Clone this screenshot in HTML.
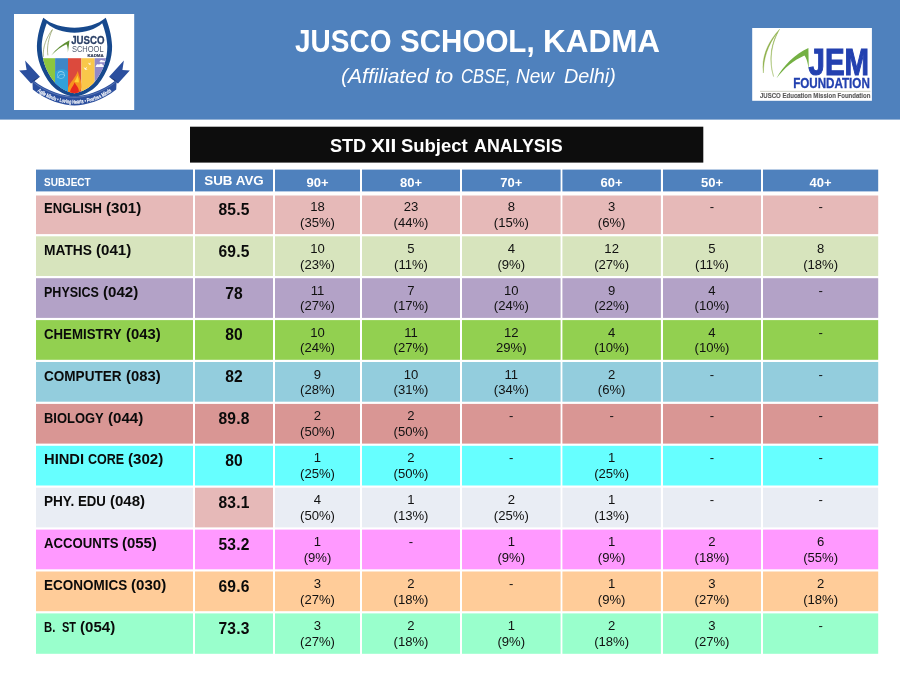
<!DOCTYPE html>
<html lang="en"><head><meta charset="utf-8"><title>JUSCO SCHOOL, KADMA - STD XII Subject ANALYSIS</title>
<style>
html,body{margin:0;padding:0}
body{width:900px;height:675px;position:relative;overflow:hidden;background:#fff;will-change:transform;font-family:"Liberation Sans",sans-serif;color:#000}
.abs{position:absolute}
.t{position:absolute;white-space:nowrap;transform-origin:0 0;line-height:1}
.b{font-weight:bold}
.i{font-style:italic}
.w{color:#fff}
.s{color:#0a0a0a}
.avg{position:absolute;text-align:center;font-weight:bold;font-size:15.6px;line-height:1;left:195px;width:78px;letter-spacing:.2px;color:#0a0a0a}
.d{position:absolute;text-align:center;font-size:13.1px;line-height:15.7px;color:#111}
.h{position:absolute;text-align:center;font-weight:bold;font-size:13.0px;line-height:1;color:#fff}
.k3{left:275px;width:85px}.k4{left:362px;width:98px}.k5{left:462px;width:98.6px}.k6{left:562.4px;width:98.5px}.k7{left:663px;width:98px}.k8{left:763px;width:115.2px}
</style></head><body>
<div class="abs" id="topbar" style="left:0;top:0;width:900px;height:119px;background:#4f81bd"></div><div class="abs" style="left:0;top:119px;width:900px;height:1px;background:#95b3d7"></div>
<svg class="abs" id="logo-left" style="left:14px;top:14px" width="121" height="96" viewBox="14 14 121 96" font-family="'Liberation Sans',sans-serif">
<rect x="14" y="14" width="120.2" height="96" fill="#fff"/>
<path d="M 25.1 60.4 L 39.9 76.8 L 31.0 83.4 L 19.2 70.4 L 26.6 70.0 Z" fill="#2b4f9e"/><path d="M 123.9 60.4 L 109.1 76.8 L 118.0 83.4 L 129.8 70.4 L 122.4 70.0 Z" fill="#2b4f9e"/>
<path d="M 31 83.4 L 39.9 76.8 L 33 80.5 Z" fill="#1b336b"/><path d="M 118.0 83.4 L 109.1 76.8 L 116.0 80.5 Z" fill="#1b336b"/>
<path d="M 74.50 27.80 C 63.00 27.60 51.00 24.60 43.30 17.80 C 40.40 25.00 37.30 35.00 36.90 46.00 C 36.70 58.00 41.00 72.00 51.30 84.70 C 57.00 91.20 66.00 95.60 74.50 96.80 C 83.00 95.60 92.00 91.20 97.70 84.70 C 108.00 72.00 112.30 58.00 112.10 46.00 C 111.70 35.00 108.60 25.00 105.70 17.80 C 98.00 24.60 86.00 27.60 74.50 27.80 Z" fill="#17498d"/>
<path id="shieldin" d="M 74.50 32.70 C 64.00 32.50 53.50 29.60 46.80 23.30 C 44.20 30.00 41.80 38.50 41.70 46.50 C 41.70 58.00 45.00 70.00 54.00 81.50 C 59.00 87.80 67.00 92.20 74.50 93.20 C 82.00 92.20 90.00 87.80 95.00 81.50 C 104.00 70.00 107.30 58.00 107.30 46.50 C 107.20 38.50 104.80 30.00 102.20 23.30 C 95.50 29.60 85.00 32.50 74.50 32.70 Z" fill="#fff"/>
<clipPath id="shclip"><path d="M 74.50 32.70 C 64.00 32.50 53.50 29.60 46.80 23.30 C 44.20 30.00 41.80 38.50 41.70 46.50 C 41.70 58.00 45.00 70.00 54.00 81.50 C 59.00 87.80 67.00 92.20 74.50 93.20 C 82.00 92.20 90.00 87.80 95.00 81.50 C 104.00 70.00 107.30 58.00 107.30 46.50 C 107.20 38.50 104.80 30.00 102.20 23.30 C 95.50 29.60 85.00 32.50 74.50 32.70 Z"/></clipPath>
<g clip-path="url(#shclip)">
<rect x="40" y="58.2" width="15.1" height="40" fill="#8cc63f"/>
<rect x="55.1" y="58.2" width="12.9" height="40" fill="#3f86c6"/>
<rect x="68" y="58.2" width="13.4" height="40" fill="#dc4a3d"/>
<rect x="81.4" y="58.2" width="13.3" height="40" fill="#f9c74a"/>
<rect x="94.7" y="58.2" width="14" height="40" fill="#9189c9"/>
<path d="M 55.1 72 C 60 68, 66 69, 68 72 L 68 95 L 55.1 95 Z" fill="#2fa9e0" opacity=".75"/>
<circle cx="61" cy="75" r="3.6" fill="none" stroke="#9fd8f2" stroke-width=".7" opacity=".8"/>
<path d="M 57.5 78 C 59 74, 63 73, 65 76 M 58 72.5 C 60 71, 62.5 71.5, 64 73" fill="none" stroke="#bfe6f7" stroke-width=".6" opacity=".8"/>
<path d="M 68 88 C 70 82, 75.5 78, 77.8 71 C 79 77, 82 81, 81.4 88 C 80 93, 72 95, 68 94 Z" fill="#f7931e"/>
<path d="M 70 93 C 70 88.5, 73.5 86, 74.6 82.4 C 76.5 86, 79.5 88, 78.8 92 C 77 95.5, 71 96, 70 93 Z" fill="#e8281d"/>
<path d="M 74.4 82 C 75.4 79.6, 76.8 78, 77.4 75.4 C 78.2 78, 79.2 80, 78.8 82.6 Z" fill="#fdd835" opacity=".9"/>
<path d="M 83.5 67 l 1.8 1.2 l 2 -1.6 l -1.2 2.2 l 1.6 .6 l -2.6 .4 z M 88 62.5 l 1.4 .9 l 1.6 -1.2 l -.9 1.7 l 1.2 .5 l -2.1 .3 z" fill="#fff" opacity=".95"/>
<path d="M 96 66 c .2 -1.6, 2 -2.2, 3 -1.2 c .8 -1.6, 3.4 -1.4, 3.8 .4 c 1.2 0, 1.8 1, 1.4 1.8 l -8 0 c -.8 -.2, -.8 -.9, -.2 -1 z M 100 61 c .4 -1.2, 2.2 -1.4, 2.8 -.4 c 1.4 -.6, 2.6 .6, 2.2 1.6 l -5 0 c -.6 -.3, -.5 -1, 0 -1.2 z" fill="#fff" opacity=".95"/>
</g>
<path d="M 43.3 56.8 C 42.6 47, 46.6 37, 52.4 29.6 C 48.6 38, 46.6 47, 47.9 55.4" fill="none" stroke="#8a9a5b" stroke-width=".7" stroke-linejoin="round"/>
<path d="M 51.2 55.4 C 56 49, 62.5 43.6, 69.5 40.2 L 67.9 52.6 C 67.9 48.6, 67.4 45.6, 66.4 44.2 C 61.5 46.4, 56 50.6, 51.2 55.4 Z" fill="#5f8f33"/>
<text x="71.25" y="43.9" font-size="10.7" font-weight="bold" fill="#2a3f66" stroke="#2a3f66" stroke-width=".3" textLength="33.3" lengthAdjust="spacingAndGlyphs">JUSCO</text>
<text x="71.9" y="52" font-size="9" fill="#4d586e" textLength="31.7" lengthAdjust="spacingAndGlyphs">SCHOOL</text>
<text x="87.5" y="56.8" font-size="3.7" font-weight="bold" fill="#3a4560" stroke="#3a4560" stroke-width=".2" textLength="16.1" lengthAdjust="spacingAndGlyphs">KADMA</text>
<path d="M 74.50 96.20 C 64.00 96.00 48.00 92.50 32.30 79.60 L 32.80 89.60 C 47.00 101.00 63.00 105.40 74.50 105.60 C 86.00 105.40 102.00 101.00 116.20 89.60 L 116.70 79.60 C 101.00 92.50 85.00 96.00 74.50 96.20 Z" fill="#2b4f9e"/>
<path d="M 33.4 82.2 C 48 93.6, 64 97.2, 74.5 97.4 C 85 97.2, 101 93.6, 115.6 82.2" fill="none" stroke="#fff" stroke-width=".4" opacity=".55"/>
<path id="ribpath" d="M 35.4 89.9 C 47.4 99.8, 62 103.5, 74.5 103.7 C 87 103.5, 101.6 99.8, 113.6 89.9" fill="none"/>
<text font-size="5.6" font-weight="bold" fill="#fff" stroke="#fff" stroke-width=".12"><textPath href="#ribpath" startOffset="50%" text-anchor="middle" textLength="80" lengthAdjust="spacingAndGlyphs">Agile Minds &#8226; Loving Hearts &#8226; Fearless Minds</textPath></text>
</svg>
<svg class="abs" id="logo-right" style="left:752px;top:28px" width="121" height="74" viewBox="752 28 121 74" font-family="'Liberation Sans',sans-serif">
<rect x="752.2" y="27.9" width="119.7" height="72.9" fill="#fff"/>
<path d="M 763.4 73 C 761 58, 767.6 42, 779.6 29.2 C 771.6 43, 768.6 60, 773.6 76.6 C 768.8 62, 770.4 45, 777.6 32.4 C 767.6 45, 763.4 59, 763.4 73 Z" fill="#8fb04a" stroke="#8fb04a" stroke-width=".35" stroke-linejoin="round"/>
<path d="M 776.4 78.4 C 783 66, 795 54, 808.4 48 L 808.8 70.4 C 808 63, 806.4 57.4, 804.4 55.4 C 794 60, 784 68, 776.4 78.4 Z" fill="#74b043"/>
<text x="808.6" y="74.5" font-size="36" font-weight="bold" fill="#2341b0" stroke="#2341b0" stroke-width="1.1" textLength="60.5" lengthAdjust="spacingAndGlyphs">JEM</text>
<text x="793.2" y="87.8" font-size="15.5" font-weight="bold" fill="#2341b0" stroke="#2341b0" stroke-width=".35" textLength="76.6" lengthAdjust="spacingAndGlyphs">FOUNDATION</text>
<rect x="760" y="90.9" width="110.4" height=".6" fill="#a9ad9c"/>
<text x="760" y="98.4" font-size="7.7" font-weight="bold" fill="#5a5a5a" stroke="#5a5a5a" stroke-width=".15" textLength="110.4" lengthAdjust="spacingAndGlyphs">JUSCO Education Mission Foundation</text>
</svg>
<h1 id="title" style="margin:0;font-size:inherit;font-weight:normal"><span class="t b w" style="left:295.18px;top:26.00px;font-size:30.6px;transform:scaleX(0.915)">JUSCO</span><span class="t b w" style="left:400.26px;top:26.00px;font-size:30.6px;transform:scaleX(0.966)">SCHOOL,</span><span class="t b w" style="left:542.56px;top:26.00px;font-size:30.6px;transform:scaleX(1.028)">KADMA</span></h1>
<div id="subtitle"><span class="t i w" style="left:340.85px;top:65.61px;font-size:20.9px;transform:scaleX(1.008)">(Affiliated</span><span class="t i w" style="left:434.61px;top:65.61px;font-size:20.9px;transform:scaleX(1.048)">to</span><span class="t i w" style="left:461.29px;top:65.61px;font-size:20.9px;transform:scaleX(0.789)">CBSE,</span><span class="t i w" style="left:516.43px;top:65.61px;font-size:20.9px;transform:scaleX(0.911)">New</span><span class="t i w" style="left:563.81px;top:65.61px;font-size:20.9px;transform:scaleX(0.948)">Delhi)</span></div>
<svg class="abs" id="grid" style="left:0;top:120px" width="900" height="555" viewBox="0 120 900 555">
<rect x="190" y="126.7" width="513.3" height="35.9" fill="#0d0d0d"/>
<g fill="#4f81bd">
<rect x="36" y="169.6" width="157.0" height="21.8"/>
<rect x="195" y="169.6" width="78.0" height="21.8"/>
<rect x="275" y="169.6" width="85.0" height="21.8"/>
<rect x="362" y="169.6" width="98.0" height="21.8"/>
<rect x="462" y="169.6" width="98.6" height="21.8"/>
<rect x="562.4" y="169.6" width="98.5" height="21.8"/>
<rect x="663" y="169.6" width="98.0" height="21.8"/>
<rect x="763" y="169.6" width="115.2" height="21.8"/>
</g>
<g fill="#e6b9b8">
<rect x="36" y="195.5" width="157.0" height="38.6"/>
<rect x="195" y="195.5" width="78.0" height="38.6"/>
<rect x="275" y="195.5" width="85.0" height="38.6"/>
<rect x="362" y="195.5" width="98.0" height="38.6"/>
<rect x="462" y="195.5" width="98.6" height="38.6"/>
<rect x="562.4" y="195.5" width="98.5" height="38.6"/>
<rect x="663" y="195.5" width="98.0" height="38.6"/>
<rect x="763" y="195.5" width="115.2" height="38.6"/>
</g>
<g fill="#d7e4bd">
<rect x="36" y="236.3" width="157.0" height="39.7"/>
<rect x="195" y="236.3" width="78.0" height="39.7"/>
<rect x="275" y="236.3" width="85.0" height="39.7"/>
<rect x="362" y="236.3" width="98.0" height="39.7"/>
<rect x="462" y="236.3" width="98.6" height="39.7"/>
<rect x="562.4" y="236.3" width="98.5" height="39.7"/>
<rect x="663" y="236.3" width="98.0" height="39.7"/>
<rect x="763" y="236.3" width="115.2" height="39.7"/>
</g>
<g fill="#b3a2c7">
<rect x="36" y="278.2" width="157.0" height="39.7"/>
<rect x="195" y="278.2" width="78.0" height="39.7"/>
<rect x="275" y="278.2" width="85.0" height="39.7"/>
<rect x="362" y="278.2" width="98.0" height="39.7"/>
<rect x="462" y="278.2" width="98.6" height="39.7"/>
<rect x="562.4" y="278.2" width="98.5" height="39.7"/>
<rect x="663" y="278.2" width="98.0" height="39.7"/>
<rect x="763" y="278.2" width="115.2" height="39.7"/>
</g>
<g fill="#92d050">
<rect x="36" y="320.1" width="157.0" height="39.7"/>
<rect x="195" y="320.1" width="78.0" height="39.7"/>
<rect x="275" y="320.1" width="85.0" height="39.7"/>
<rect x="362" y="320.1" width="98.0" height="39.7"/>
<rect x="462" y="320.1" width="98.6" height="39.7"/>
<rect x="562.4" y="320.1" width="98.5" height="39.7"/>
<rect x="663" y="320.1" width="98.0" height="39.7"/>
<rect x="763" y="320.1" width="115.2" height="39.7"/>
</g>
<g fill="#93cddd">
<rect x="36" y="362.0" width="157.0" height="39.7"/>
<rect x="195" y="362.0" width="78.0" height="39.7"/>
<rect x="275" y="362.0" width="85.0" height="39.7"/>
<rect x="362" y="362.0" width="98.0" height="39.7"/>
<rect x="462" y="362.0" width="98.6" height="39.7"/>
<rect x="562.4" y="362.0" width="98.5" height="39.7"/>
<rect x="663" y="362.0" width="98.0" height="39.7"/>
<rect x="763" y="362.0" width="115.2" height="39.7"/>
</g>
<g fill="#d99694">
<rect x="36" y="403.9" width="157.0" height="39.7"/>
<rect x="195" y="403.9" width="78.0" height="39.7"/>
<rect x="275" y="403.9" width="85.0" height="39.7"/>
<rect x="362" y="403.9" width="98.0" height="39.7"/>
<rect x="462" y="403.9" width="98.6" height="39.7"/>
<rect x="562.4" y="403.9" width="98.5" height="39.7"/>
<rect x="663" y="403.9" width="98.0" height="39.7"/>
<rect x="763" y="403.9" width="115.2" height="39.7"/>
</g>
<g fill="#66ffff">
<rect x="36" y="445.8" width="157.0" height="39.7"/>
<rect x="195" y="445.8" width="78.0" height="39.7"/>
<rect x="275" y="445.8" width="85.0" height="39.7"/>
<rect x="362" y="445.8" width="98.0" height="39.7"/>
<rect x="462" y="445.8" width="98.6" height="39.7"/>
<rect x="562.4" y="445.8" width="98.5" height="39.7"/>
<rect x="663" y="445.8" width="98.0" height="39.7"/>
<rect x="763" y="445.8" width="115.2" height="39.7"/>
</g>
<g fill="#e9edf4">
<rect x="36" y="487.7" width="157.0" height="39.7"/>
<rect x="195" y="487.7" width="78.0" height="39.7" fill="#e6b9b8"/>
<rect x="275" y="487.7" width="85.0" height="39.7"/>
<rect x="362" y="487.7" width="98.0" height="39.7"/>
<rect x="462" y="487.7" width="98.6" height="39.7"/>
<rect x="562.4" y="487.7" width="98.5" height="39.7"/>
<rect x="663" y="487.7" width="98.0" height="39.7"/>
<rect x="763" y="487.7" width="115.2" height="39.7"/>
</g>
<g fill="#ff99ff">
<rect x="36" y="529.6" width="157.0" height="39.7"/>
<rect x="195" y="529.6" width="78.0" height="39.7"/>
<rect x="275" y="529.6" width="85.0" height="39.7"/>
<rect x="362" y="529.6" width="98.0" height="39.7"/>
<rect x="462" y="529.6" width="98.6" height="39.7"/>
<rect x="562.4" y="529.6" width="98.5" height="39.7"/>
<rect x="663" y="529.6" width="98.0" height="39.7"/>
<rect x="763" y="529.6" width="115.2" height="39.7"/>
</g>
<g fill="#ffcc99">
<rect x="36" y="571.5" width="157.0" height="39.7"/>
<rect x="195" y="571.5" width="78.0" height="39.7"/>
<rect x="275" y="571.5" width="85.0" height="39.7"/>
<rect x="362" y="571.5" width="98.0" height="39.7"/>
<rect x="462" y="571.5" width="98.6" height="39.7"/>
<rect x="562.4" y="571.5" width="98.5" height="39.7"/>
<rect x="663" y="571.5" width="98.0" height="39.7"/>
<rect x="763" y="571.5" width="115.2" height="39.7"/>
</g>
<g fill="#99ffcc">
<rect x="36" y="613.4" width="157.0" height="40.4"/>
<rect x="195" y="613.4" width="78.0" height="40.4"/>
<rect x="275" y="613.4" width="85.0" height="40.4"/>
<rect x="362" y="613.4" width="98.0" height="40.4"/>
<rect x="462" y="613.4" width="98.6" height="40.4"/>
<rect x="562.4" y="613.4" width="98.5" height="40.4"/>
<rect x="663" y="613.4" width="98.0" height="40.4"/>
<rect x="763" y="613.4" width="115.2" height="40.4"/>
</g>
</svg>
<div id="bartxt"><span class="t b w" style="left:329.95px;top:135.55px;font-size:19.2px;transform:scaleX(0.943)">STD</span><span class="t b w" style="left:371.40px;top:135.55px;font-size:19.2px;transform:scaleX(1.082)">XII</span><span class="t b w" style="left:401.04px;top:135.55px;font-size:19.2px;transform:scaleX(0.961)">Subject</span><span class="t b w" style="left:474.04px;top:135.55px;font-size:19.2px;transform:scaleX(0.930)">ANALYSIS</span></div>
<!-- table header -->
<div id="hsubject"><span class="t b w" style="left:44.05px;top:175.78px;font-size:11.6px;transform:scaleX(0.863)">SUBJECT</span></div>
<div class="h" id="hsubavg" style="left:195px;width:78px;top:174.46px;font-size:13.4px">SUB AVG</div>
<div class="h k3" style="top:175.80px">90+</div>
<div class="h k4" style="top:175.80px">80+</div>
<div class="h k5" style="top:175.80px">70+</div>
<div class="h k6" style="top:175.80px">60+</div>
<div class="h k7" style="top:175.80px">50+</div>
<div class="h k8" style="top:175.80px">40+</div>
<!-- row 1 -->
<div><span class="t b s" style="left:44.05px;top:200.02px;font-size:15.1px;transform:scaleX(0.865)">ENGLISH</span><span class="t b s" style="left:105.92px;top:200.02px;font-size:15.1px;transform:scaleX(0.999)">(301)</span></div>
<div class="avg" style="top:201.79px">85.5</div>
<div class="d k3" style="top:198.91px">18<br>(35%)</div>
<div class="d k4" style="top:198.91px">23<br>(44%)</div>
<div class="d k5" style="top:198.91px">8<br>(15%)</div>
<div class="d k6" style="top:198.91px">3<br>(6%)</div>
<div class="d k7" style="top:198.91px">-</div>
<div class="d k8" style="top:198.91px">-</div>
<!-- row 2 -->
<div><span class="t b s" style="left:44.00px;top:241.92px;font-size:15.1px;transform:scaleX(0.913)">MATHS</span><span class="t b s" style="left:96.32px;top:241.92px;font-size:15.1px;transform:scaleX(0.999)">(041)</span></div>
<div class="avg" style="top:243.69px">69.5</div>
<div class="d k3" style="top:240.81px">10<br>(23%)</div>
<div class="d k4" style="top:240.81px">5<br>(11%)</div>
<div class="d k5" style="top:240.81px">4<br>(9%)</div>
<div class="d k6" style="top:240.81px">12<br>(27%)</div>
<div class="d k7" style="top:240.81px">5<br>(11%)</div>
<div class="d k8" style="top:240.81px">8<br>(18%)</div>
<!-- row 3 -->
<div><span class="t b s" style="left:44.09px;top:283.82px;font-size:15.1px;transform:scaleX(0.829)">PHYSICS</span><span class="t b s" style="left:103.22px;top:283.82px;font-size:15.1px;transform:scaleX(0.999)">(042)</span></div>
<div class="avg" style="top:285.59px">78</div>
<div class="d k3" style="top:282.71px">11<br>(27%)</div>
<div class="d k4" style="top:282.71px">7<br>(17%)</div>
<div class="d k5" style="top:282.71px">10<br>(24%)</div>
<div class="d k6" style="top:282.71px">9<br>(22%)</div>
<div class="d k7" style="top:282.71px">4<br>(10%)</div>
<div class="d k8" style="top:282.71px">-</div>
<!-- row 4 -->
<div><span class="t b s" style="left:43.97px;top:325.72px;font-size:15.1px;transform:scaleX(0.877)">CHEMISTRY</span><span class="t b s" style="left:126.03px;top:325.72px;font-size:15.1px;transform:scaleX(0.981)">(043)</span></div>
<div class="avg" style="top:327.49px">80</div>
<div class="d k3" style="top:324.61px">10<br>(24%)</div>
<div class="d k4" style="top:324.61px">11<br>(27%)</div>
<div class="d k5" style="top:324.61px">12<br>29%)</div>
<div class="d k6" style="top:324.61px">4<br>(10%)</div>
<div class="d k7" style="top:324.61px">4<br>(10%)</div>
<div class="d k8" style="top:324.61px">-</div>
<!-- row 5 -->
<div><span class="t b s" style="left:43.96px;top:367.62px;font-size:15.1px;transform:scaleX(0.898)">COMPUTER</span><span class="t b s" style="left:126.03px;top:367.62px;font-size:15.1px;transform:scaleX(0.981)">(083)</span></div>
<div class="avg" style="top:369.39px">82</div>
<div class="d k3" style="top:366.51px">9<br>(28%)</div>
<div class="d k4" style="top:366.51px">10<br>(31%)</div>
<div class="d k5" style="top:366.51px">11<br>(34%)</div>
<div class="d k6" style="top:366.51px">2<br>(6%)</div>
<div class="d k7" style="top:366.51px">-</div>
<div class="d k8" style="top:366.51px">-</div>
<!-- row 6 -->
<div><span class="t b s" style="left:44.06px;top:409.52px;font-size:15.1px;transform:scaleX(0.857)">BIOLOGY</span><span class="t b s" style="left:108.22px;top:409.52px;font-size:15.1px;transform:scaleX(0.999)">(044)</span></div>
<div class="avg" style="top:411.29px">89.8</div>
<div class="d k3" style="top:408.41px">2<br>(50%)</div>
<div class="d k4" style="top:408.41px">2<br>(50%)</div>
<div class="d k5" style="top:408.41px">-</div>
<div class="d k6" style="top:408.41px">-</div>
<div class="d k7" style="top:408.41px">-</div>
<div class="d k8" style="top:408.41px">-</div>
<!-- row 7 -->
<div><span class="t b s" style="left:43.94px;top:451.42px;font-size:15.1px;transform:scaleX(0.975)">HINDI</span><span class="t b s" style="left:87.90px;top:451.42px;font-size:15.1px;transform:scaleX(0.829)">CORE</span><span class="t b s" style="left:128.32px;top:451.42px;font-size:15.1px;transform:scaleX(0.999)">(302)</span></div>
<div class="avg" style="top:453.19px">80</div>
<div class="d k3" style="top:450.31px">1<br>(25%)</div>
<div class="d k4" style="top:450.31px">2<br>(50%)</div>
<div class="d k5" style="top:450.31px">-</div>
<div class="d k6" style="top:450.31px">1<br>(25%)</div>
<div class="d k7" style="top:450.31px">-</div>
<div class="d k8" style="top:450.31px">-</div>
<!-- row 8 -->
<div><span class="t b s" style="left:44.02px;top:493.32px;font-size:15.1px;transform:scaleX(0.900)">PHY.</span><span class="t b s" style="left:77.84px;top:493.32px;font-size:15.1px;transform:scaleX(0.876)">EDU</span><span class="t b s" style="left:110.02px;top:493.32px;font-size:15.1px;transform:scaleX(0.996)">(048)</span></div>
<div class="avg" style="top:495.09px">83.1</div>
<div class="d k3" style="top:492.21px">4<br>(50%)</div>
<div class="d k4" style="top:492.21px">1<br>(13%)</div>
<div class="d k5" style="top:492.21px">2<br>(25%)</div>
<div class="d k6" style="top:492.21px">1<br>(13%)</div>
<div class="d k7" style="top:492.21px">-</div>
<div class="d k8" style="top:492.21px">-</div>
<!-- row 9 -->
<div><span class="t b s" style="left:44.24px;top:535.22px;font-size:15.1px;transform:scaleX(0.871)">ACCOUNTS</span><span class="t b s" style="left:122.43px;top:535.22px;font-size:15.1px;transform:scaleX(0.987)">(055)</span></div>
<div class="avg" style="top:536.99px">53.2</div>
<div class="d k3" style="top:534.11px">1<br>(9%)</div>
<div class="d k4" style="top:534.11px">-</div>
<div class="d k5" style="top:534.11px">1<br>(9%)</div>
<div class="d k6" style="top:534.11px">1<br>(9%)</div>
<div class="d k7" style="top:534.11px">2<br>(18%)</div>
<div class="d k8" style="top:534.11px">6<br>(55%)</div>
<!-- row 10 -->
<div><span class="t b s" style="left:44.02px;top:577.12px;font-size:15.1px;transform:scaleX(0.893)">ECONOMICS</span><span class="t b s" style="left:131.32px;top:577.12px;font-size:15.1px;transform:scaleX(0.999)">(030)</span></div>
<div class="avg" style="top:578.89px">69.6</div>
<div class="d k3" style="top:576.01px">3<br>(27%)</div>
<div class="d k4" style="top:576.01px">2<br>(18%)</div>
<div class="d k5" style="top:576.01px">-</div>
<div class="d k6" style="top:576.01px">1<br>(9%)</div>
<div class="d k7" style="top:576.01px">3<br>(27%)</div>
<div class="d k8" style="top:576.01px">2<br>(18%)</div>
<!-- row 11 -->
<div><span class="t b s" style="left:44.17px;top:619.02px;font-size:15.1px;transform:scaleX(0.748)">B.</span><span class="t b s" style="left:61.53px;top:619.02px;font-size:15.1px;transform:scaleX(0.728)">ST</span><span class="t b s" style="left:80.12px;top:619.02px;font-size:15.1px;transform:scaleX(0.999)">(054)</span></div>
<div class="avg" style="top:620.79px">73.3</div>
<div class="d k3" style="top:617.91px">3<br>(27%)</div>
<div class="d k4" style="top:617.91px">2<br>(18%)</div>
<div class="d k5" style="top:617.91px">1<br>(9%)</div>
<div class="d k6" style="top:617.91px">2<br>(18%)</div>
<div class="d k7" style="top:617.91px">3<br>(27%)</div>
<div class="d k8" style="top:617.91px">-</div>
</body></html>
